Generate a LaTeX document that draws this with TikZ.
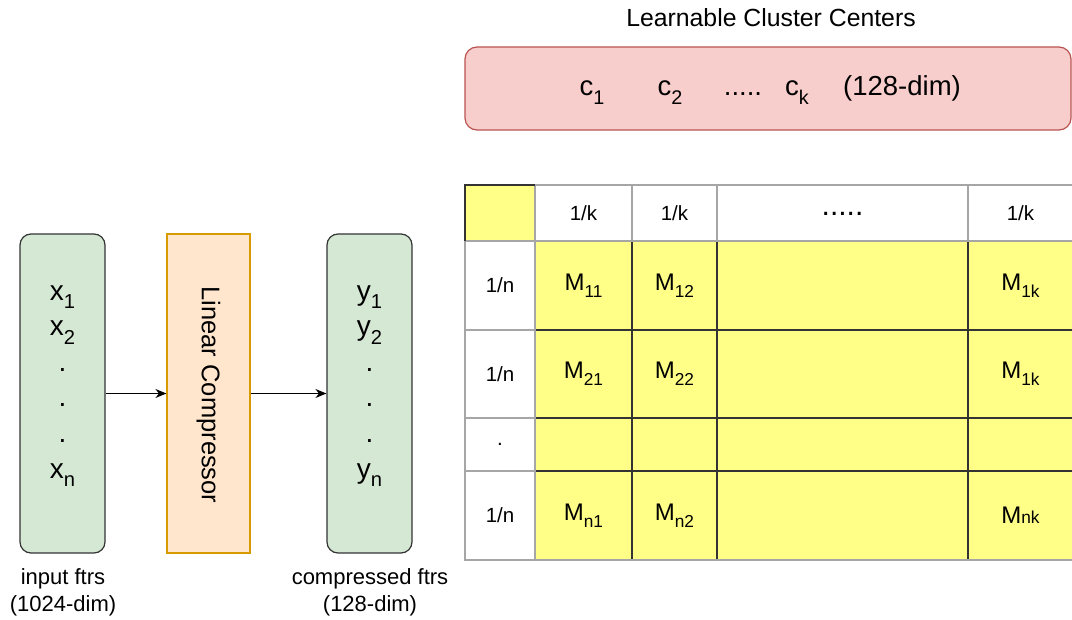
\documentclass[tikz,border=0pt]{standalone}
\usepackage{fontspec}
\setmainfont{Liberation Sans}
\usetikzlibrary{arrows.meta}
\newcommand{\lsub}[1]{\raisebox{-0.3em}{\smash{\scalebox{0.72}{#1}}}}
\newcommand{\fs}[1]{\fontsize{#1}{#1}\selectfont}
\definecolor{gfill}{HTML}{D5E8D4}
\definecolor{ofill}{HTML}{FFE6CC}
\definecolor{oline}{HTML}{D79B00}
\definecolor{pfill}{HTML}{F8CECC}
\definecolor{pline}{HTML}{B85450}
\definecolor{yfill}{HTML}{FFFF88}
\definecolor{gline}{HTML}{A6A6A6}
\definecolor{dline}{HTML}{333333}
\tikzset{
  greenbox/.style={draw=dline, fill=gfill, rounded corners=11pt, line width=1.2pt,
    minimum width=85pt, minimum height=319pt, inner sep=0pt},
  vtext/.style={align=center, inner sep=0pt, font=\fontsize{28}{35.6}\selectfont},
  compbox/.style={draw=oline, fill=ofill, line width=1.2pt,
    minimum width=83pt, minimum height=319pt, inner sep=0pt},
  arr/.style={-{Stealth[length=11pt,width=9pt]}, line width=1.2pt, black},
  lbl/.style={align=center, font=\fontsize{22}{27}\selectfont, inner sep=0pt},
  ycell/.style 2 args={draw=dline, fill=yfill, line width=1.2pt, minimum width=#1,
    minimum height=#2, inner sep=0pt, outer sep=0pt, font=\fs{24}},
  wcell/.style 2 args={draw=gline, fill=white, line width=1.2pt, minimum width=#1,
    minimum height=#2, inner sep=0pt, outer sep=0pt, font=\fs{20.5}},
  ctext/.style={anchor=base, inner sep=0pt, font=\fs{27.5}},
}
\begin{document}
\begin{tikzpicture}[x=1pt,y=-1pt]
\path[clip] (0,0) rectangle (1072,620);
\fill[white] (0,0) rectangle (1072,620);

% left pipeline
\node[greenbox] (in) at (62.5,393.5) {};
\node[vtext] (int) at (62.5,386) {x\lsub{1}\\x\lsub{2}\\.\\.\\.\\x\lsub{n}};
\node[compbox] (lc) at (208.5,393.5) {};
\node[rotate=-90, font=\fs{25.5}, inner sep=0pt] (lct) at (208.5,395) {Linear Compressor};
\node[greenbox] (out) at (369.5,393.5) {};
\node[vtext] (outt) at (369.5,386) {y\lsub{1}\\y\lsub{2}\\.\\.\\.\\y\lsub{n}};
\draw[arr] (in) -- (lc);
\draw[arr] (lc) -- (out);
\node[lbl] (inl) at (63,592) {input ftrs\\(1024-dim)};
\node[lbl] (outl) at (370,592) {compressed ftrs\\(128-dim)};

% cluster centers
\node[font=\fs{24.8}, inner sep=0pt] (title) at (771,18) {Learnable Cluster Centers};
\node[draw=pline, fill=pfill, rounded corners=12pt, line width=1.2pt,
  minimum width=606pt, minimum height=83pt, inner sep=0pt] (cc) at (768,88.5) {};
\node[ctext] (c1) at (592,96) {c\lsub{1}};
\node[ctext] (c2) at (670,96) {c\lsub{2}};
\node[ctext] (cd) at (743,96) {.....};
\node[ctext] (ck) at (797,96) {c\lsub{k}};
\node[ctext] (cdim) at (902,96) {(128-dim)};

% table: yellow cells
\node[ycell={97pt}{89pt}] (m11) at (583.5,285.5) {M\lsub{11}};
\node[ycell={85pt}{89pt}] (m12) at (674.5,285.5) {\raisebox{-4pt}{M\lsub{12}}};
\node[ycell={251pt}{89pt}] (m13) at (842.5,285.5) {};
\node[ycell={105pt}{89pt}] (m14) at (1020.5,285.5) {M\lsub{1k}};
\node[ycell={97pt}{88pt}] (m21) at (583.5,374) {M\lsub{21}};
\node[ycell={85pt}{88pt}] (m22) at (674.5,374) {\raisebox{-5pt}{M\lsub{22}}};
\node[ycell={251pt}{88pt}] (m23) at (842.5,374) {};
\node[ycell={105pt}{88pt}] (m24) at (1020.5,374) {M\lsub{1k}};
\node[ycell={97pt}{53pt}] (m31) at (583.5,444.5) {};
\node[ycell={85pt}{53pt}] (m32) at (674.5,444.5) {};
\node[ycell={251pt}{53pt}] (m33) at (842.5,444.5) {};
\node[ycell={105pt}{53pt}] (m34) at (1020.5,444.5) {};
\node[ycell={97pt}{89pt}] (m41) at (583.5,515.5) {M\lsub{n1}};
\node[ycell={85pt}{89pt}] (m42) at (674.5,515.5) {\raisebox{-3pt}{M\lsub{n2}}};
\node[ycell={251pt}{89pt}] (m43) at (842.5,515.5) {};
\node[ycell={105pt}{89pt}] (m44) at (1020.5,515.5) {M{\scalebox{0.72}{nk}}};
% table: header row and left column
\node[ycell={70pt}{56pt}, draw=gline] (h0) at (500,213) {};
\node[wcell={97pt}{56pt}] (h1) at (583.5,213) {1/k};
\node[wcell={85pt}{56pt}] (h2) at (674.5,213) {1/k};
\node[wcell={251pt}{56pt}, font=\fs{30}] (h3) at (842.5,213) {\raisebox{-5pt}{.....}};
\node[wcell={105pt}{56pt}] (h4) at (1020.5,213) {1/k};
\node[wcell={70pt}{89pt}] (r1) at (500,285.5) {1/n};
\node[wcell={70pt}{88pt}] (r2) at (500,374) {1/n};
\node[wcell={70pt}{53pt}] (r3) at (500,444.5) {.};
\node[wcell={70pt}{89pt}] (r4) at (500,515.5) {1/n};
\draw[dline, line width=1.2pt] (h0.south west) -- (h0.north west) -- (h0.north east);
\draw[gline, line width=1.2pt] (m41.south west) -- (m44.south east);
\end{tikzpicture}
\end{document}
